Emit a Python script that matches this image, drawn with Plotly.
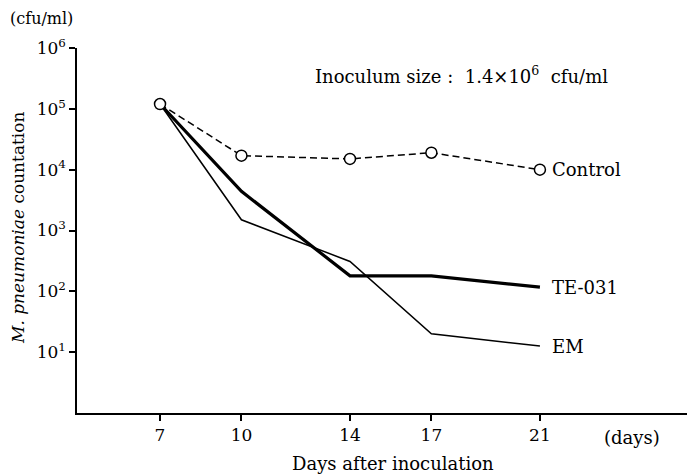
import math
import plotly.graph_objects as go

days = [7, 10, 14, 17, 21]
control = [1.2e5, 1.7e4, 1.5e4, 1.9e4, 1.0e4]
te031 = [1.2e5, 4.4e3, 180, 180, 117]
em = [1.2e5, 1.5e3, 310, 20, 12.6]
ytick_vals = [10, 100, 1e3, 1e4, 1e5, 1e6]
ytick_text = ["10<sup>1</sup>", "10<sup>2</sup>", "10<sup>3</sup>", "10<sup>4</sup>", "10<sup>5</sup>", "10<sup>6</sup>"]
series_labels = ["Control", "TE-031", "EM"]

FONT = "DejaVu Serif"

fig = go.Figure()
fig.add_trace(go.Scatter(x=days, y=control, mode="lines",
                         line=dict(color="black", width=1.5, dash="7px,4px"),
                         showlegend=False))
fig.add_trace(go.Scatter(x=days, y=te031, mode="lines",
                         line=dict(color="black", width=3.2), showlegend=False))
fig.add_trace(go.Scatter(x=days, y=em, mode="lines",
                         line=dict(color="black", width=1.5), showlegend=False))
fig.add_trace(go.Scatter(x=days, y=control, mode="markers",
                         marker=dict(symbol="circle", size=11, color="white",
                                     line=dict(color="black", width=1.5)),
                         showlegend=False))

ends = [control[-1], te031[-1], em[-1]]
for lab, yv in zip(series_labels, ends):
    fig.add_annotation(x=days[-1], y=math.log10(yv), xref="x", yref="y", text=lab,
                       showarrow=False, xanchor="left", yanchor="middle",
                       xshift=10, font=dict(size=18, family=FONT, color="black"))

fig.add_annotation(xref="paper", yref="paper", x=(313 - 77) / 610, y=1 - (75 - 48) / 365,
                   text="Inoculum size :  1.4×10<sup>6</sup>  cfu/ml", showarrow=False,
                   xanchor="left", yanchor="middle",
                   font=dict(size=18, family=FONT, color="black"))
fig.add_annotation(xref="paper", yref="paper", x=(602 - 77) / 610, y=-(437 - 413) / 365,
                   text="(days)", showarrow=False, xanchor="left", yanchor="middle",
                   font=dict(size=18, family=FONT, color="black"))
fig.add_annotation(xref="paper", yref="paper", x=(393 - 77) / 610, y=-(463 - 413) / 365,
                   text="Days after inoculation", showarrow=False, xanchor="center", yanchor="middle",
                   font=dict(size=18, family=FONT, color="black"))
fig.add_annotation(xref="paper", yref="paper", x=(8 - 77) / 610, y=1 + (48 - 18) / 365,
                   text="(cfu/ml)", showarrow=False, xanchor="left", yanchor="middle",
                   font=dict(size=16, family=FONT, color="black"))
fig.add_annotation(xref="paper", yref="paper", x=(18 - 77) / 610, y=1 - (228 - 48) / 365,
                   text="<i>M. pneumoniae</i> countation", showarrow=False, textangle=-90,
                   xanchor="center", yanchor="middle",
                   font=dict(size=17, family=FONT, color="black"))

fig.update_xaxes(range=[3.94, 26.42], tickvals=days, ticktext=[str(d) for d in days],
                 ticks="outside", ticklen=6, tickwidth=1.5, tickcolor="black",
                 showline=True, linecolor="black", linewidth=2, showgrid=False, zeroline=False,
                 tickfont=dict(size=17, family=FONT, color="black"))
fig.update_yaxes(type="log", range=[0, 6], tickvals=ytick_vals, ticktext=ytick_text,
                 ticks="outside", ticklen=6, tickwidth=1.5, tickcolor="black",
                 showline=True, linecolor="black", linewidth=1.5, showgrid=False, zeroline=False,
                 tickfont=dict(size=17, family=FONT, color="black"))

fig.update_layout(width=687, height=474, margin=dict(l=77, r=0, t=48, b=61),
                  plot_bgcolor="white", paper_bgcolor="white",
                  font=dict(family=FONT, color="black"))

fig.write_html("out.html")
